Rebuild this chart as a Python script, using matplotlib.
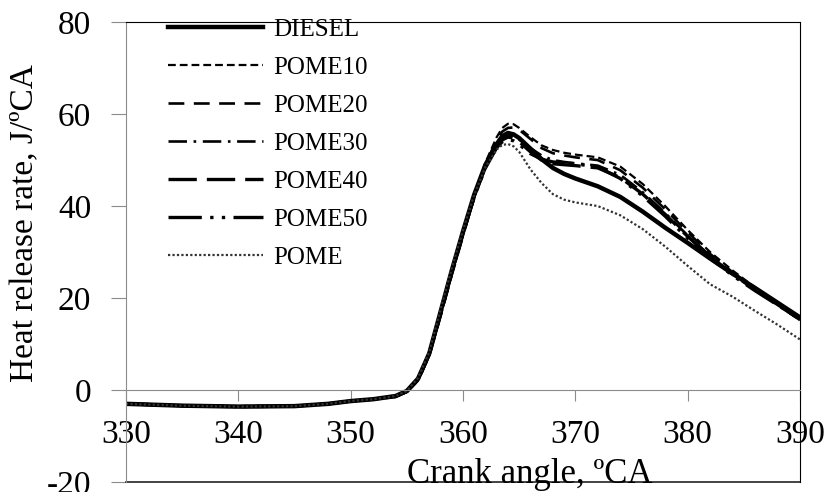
import matplotlib
matplotlib.use("Agg")
import matplotlib.pyplot as plt

plt.rcParams['font.family'] = ['Liberation Serif', 'DejaVu Serif']
plt.rcParams['axes.unicode_minus'] = False

# Crank angle (deg CA) and heat release rate (J/deg CA)
crank_angle = [330, 335, 340, 345, 348, 350, 352, 354, 355, 356, 357, 358, 359, 360,
               361, 362, 363, 363.5, 364, 364.5, 365, 366, 367, 368, 369, 370, 372,
               374, 376, 378, 380, 382, 384, 386, 388, 390]

diesel = [-3.0, -3.4, -3.6, -3.5, -3.0, -2.4, -2.0, -1.3, -0.2, 2.5, 8.0, 17.0, 26.0, 34.5,
          42.5, 49.0, 53.5, 55.2, 55.9, 55.6, 54.8, 52.5, 50.2, 48.3, 47.0, 46.0, 44.3,
          42.0, 38.8, 35.3, 32.0, 28.6, 25.3, 22.2, 19.0, 15.8]
pome10 = [-3.0, -3.4, -3.6, -3.5, -3.0, -2.4, -2.0, -1.4, -0.4, 2.0, 7.5, 16.0, 25.0, 33.5,
          42.0, 49.5, 55.0, 57.0, 57.9, 57.8, 57.0, 55.0, 53.2, 52.2, 51.6, 51.2, 50.6,
          48.6, 44.8, 40.0, 34.8, 30.0, 26.0, 22.3, 18.8, 15.4]
pome20 = [-3.0, -3.4, -3.6, -3.5, -3.0, -2.4, -2.0, -1.4, -0.4, 2.0, 7.5, 16.0, 25.0, 33.5,
          42.0, 49.2, 54.3, 56.2, 57.0, 57.1, 56.6, 54.6, 52.6, 51.5, 51.0, 50.6, 50.0,
          47.8, 44.0, 39.3, 34.3, 29.6, 25.6, 22.0, 18.6, 15.2]
pome30 = [-3.0, -3.4, -3.6, -3.5, -3.0, -2.4, -2.0, -1.4, -0.3, 2.2, 7.8, 16.5, 25.5, 34.0,
          42.0, 48.8, 53.5, 54.8, 55.4, 55.2, 54.5, 52.6, 51.0, 50.0, 49.6, 49.3, 48.8,
          46.8, 43.0, 38.5, 33.6, 29.2, 25.3, 21.8, 18.5, 15.2]
pome40 = [-3.0, -3.4, -3.6, -3.5, -3.0, -2.4, -2.0, -1.4, -0.3, 2.2, 7.8, 16.5, 25.5, 34.0,
          42.0, 48.5, 53.0, 54.4, 55.0, 54.8, 54.0, 51.8, 50.0, 49.2, 49.0, 48.8, 48.3,
          46.2, 42.6, 38.2, 33.4, 29.0, 25.2, 21.8, 18.6, 15.4]
pome50 = [-3.0, -3.4, -3.6, -3.5, -3.0, -2.4, -2.0, -1.4, -0.3, 2.3, 8.0, 16.8, 25.8, 34.2,
          42.0, 48.3, 52.7, 54.0, 54.5, 54.2, 53.4, 51.4, 50.2, 49.6, 49.4, 49.2, 48.5,
          46.0, 42.2, 37.8, 33.0, 28.7, 24.9, 21.6, 18.5, 15.5]
pome = [-3.0, -3.4, -3.6, -3.5, -3.0, -2.4, -2.0, -1.3, -0.2, 2.6, 8.3, 17.5, 26.5, 34.8,
        42.5, 48.5, 52.3, 53.3, 53.5, 53.0, 51.8, 48.0, 45.0, 42.6, 41.4, 40.8, 40.0,
        38.0, 35.0, 31.2, 27.0, 23.0, 20.3, 17.2, 14.2, 11.0]

labels = ['DIESEL', 'POME10', 'POME20', 'POME30', 'POME40', 'POME50', 'POME']
x_ticks = [330, 340, 350, 360, 370, 380, 390]
y_ticks = [-20, 0, 20, 40, 60, 80]

fig = plt.figure(figsize=(8.29, 4.92), dpi=100)
ax = fig.add_axes([126 / 829, 0.0203, 674 / 829, 0.9347])

series = [diesel, pome10, pome20, pome30, pome40, pome50, pome]
styles = [
    dict(lw=3.2, ls='-', color='black'),
    dict(lw=1.6, dashes=(3.5, 1.8), color='black'),
    dict(lw=1.9, dashes=(6, 3.6), color='black'),
    dict(lw=1.9, dashes=(7, 2.5, 1, 2.5), color='black'),
    dict(lw=2.4, dashes=(8.5, 3), color='black'),
    dict(lw=2.4, dashes=(10, 2.5, 1, 2.5, 1, 2.5), color='black'),
    dict(lw=1.6, dashes=(1, 1), color='#333333'),
]
for ys, lab, st in zip(series, labels, styles):
    ax.plot(crank_angle, ys, label=lab, **st)

ax.set_xlim(330, 390)
ax.set_ylim(-20, 80)
ax.set_xticks(x_ticks)
ax.set_yticks(y_ticks)

# x axis crosses at zero, plot box drawn round the whole area
ax.spines['bottom'].set_position(('data', 0))
ax.spines['bottom'].set_color('#8c8c8c')
ax.spines['left'].set_color('#8c8c8c')
ax.spines['top'].set_color('black')
ax.spines['right'].set_color('black')
ax.plot([330, 390], [-20, -20], color='#222222', lw=1.2, clip_on=False)

ax.tick_params(axis='x', direction='out', length=8, color='#8c8c8c', labelsize=24, pad=13)
ax.tick_params(axis='y', direction='out', length=11, color='#8c8c8c', labelsize=24, pad=14)

fig.text(25 / 829, 1 - 223 / 492, 'Heat release rate, J/ºCA', rotation=90,
         ha='center', va='center', fontsize=24)
fig.text(530 / 829, 1 - 483 / 492, 'Crank angle, ºCA', ha='center', va='baseline',
         fontsize=25)

ax.legend(loc='upper left', bbox_to_anchor=(0.062, 1.009), frameon=False, fontsize=18,
          handlelength=3.8, handletextpad=0.4, labelspacing=0.62, borderpad=0,
          borderaxespad=0)

fig.savefig('out.png', dpi=100)
